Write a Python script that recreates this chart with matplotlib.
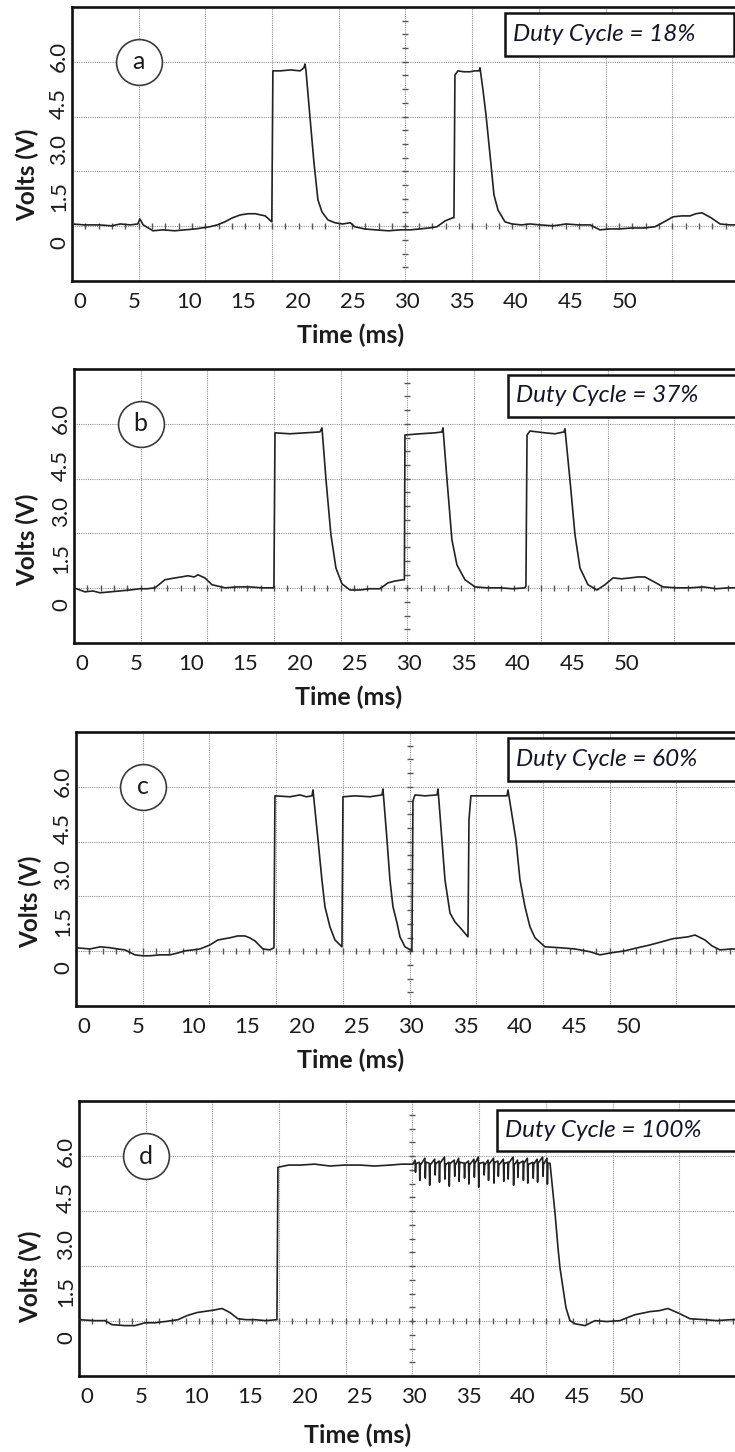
import matplotlib.pyplot as plt
from matplotlib.patches import Rectangle
import numpy as np

plt.rcParams['font.family'] = ['Lato', 'DejaVu Sans']

# scope axes: time in ms, voltage in V
x_ticks = [0, 5, 10, 15, 20, 25, 30, 35, 40, 45, 50]
y_ticks = [0, 1.5, 3.0, 4.5, 6.0]
y_tick_labels = ["0", "1.5", "3.0", "4.5", "6.0"]
x_range = (-0.73, 60.46)
y_range = (-1.23, 7.61)

panel_letters = ["a", "b", "c", "d"]
duty_labels = ["Duty Cycle = 18%", "Duty Cycle = 37%",
               "Duty Cycle = 60%", "Duty Cycle = 100%"]

# (a) 18 % duty cycle
a_t = [-0.73, 0.4, 1.8, 2.9, 3.7, 4.6, 5.3, 5.5, 5.8, 6.7, 7.6, 8.7, 9.6, 10.6,
       11.9, 12.6, 13.3, 14.0, 14.7, 15.4, 16.1, 16.6, 17.0, 17.5, 17.6, 17.7,
       18.4, 19.3, 20.2, 20.55, 20.64, 20.73, 21.10, 21.47, 21.83, 22.20, 22.75,
       23.39, 24.1, 24.8, 25.2, 26.1, 27.1, 28.3, 29.4, 30.3, 31.2, 32.0, 32.75,
       33.5, 34.2, 34.31, 34.40, 34.68, 35.2, 35.8, 36.2, 36.61, 36.70, 36.97,
       37.25, 37.71, 37.98, 38.35, 38.99, 39.63, 40.5, 41.3, 42.2, 43.4, 44.6,
       45.7, 46.8, 47.7, 48.6, 49.5, 50.6, 51.7, 52.75, 53.6, 54.4, 55.2, 55.96,
       56.5, 57.06, 57.9, 58.72, 59.6, 60.46]
a_v = [0.61, 0.58, 0.58, 0.55, 0.61, 0.58, 0.61, 0.77, 0.58, 0.39, 0.42, 0.39,
       0.42, 0.45, 0.52, 0.58, 0.68, 0.81, 0.90, 0.94, 0.94, 0.90, 0.87, 0.71,
       0.68, 5.55, 5.55, 5.58, 5.55, 5.65, 5.77, 5.58, 4.06, 2.58, 1.39, 1.00,
       0.74, 0.65, 0.61, 0.65, 0.52, 0.45, 0.42, 0.39, 0.42, 0.42, 0.45, 0.48,
       0.52, 0.71, 0.81, 0.81, 5.42, 5.55, 5.52, 5.52, 5.55, 5.55, 5.65, 4.94,
       4.13, 2.52, 1.55, 1.06, 0.68, 0.61, 0.58, 0.61, 0.58, 0.55, 0.61, 0.58,
       0.58, 0.42, 0.45, 0.45, 0.48, 0.48, 0.52, 0.68, 0.84, 0.87, 0.87, 0.94,
       0.97, 0.81, 0.61, 0.58, 0.58]

# (b) 37 % duty cycle
b_t = [-0.73, 0.28, 1.0, 1.65, 2.6, 3.49, 4.4, 5.32, 6.0, 6.70, 7.61, 8.53, 9.1,
       9.72, 10.3, 10.64, 11.28, 11.93, 13.12, 14.3, 15.41, 16.5, 17.61, 17.71,
       19.08, 20.46, 21.83, 22.02, 22.39, 22.84, 23.30, 23.85, 24.59, 25.50,
       26.4, 27.34, 28.07, 28.72, 29.45, 29.58, 29.63, 31.01, 32.39, 33.03,
       33.12, 33.49, 33.94, 34.40, 35.14, 36.06, 37.2, 38.35, 39.5, 40.64,
       40.73, 40.83, 41.10, 42.48, 43.4, 44.22, 44.31, 44.77, 45.23, 45.69,
       46.42, 47.25, 47.98, 48.72, 49.5, 50.28, 51.0, 51.65, 52.5, 53.30, 54.5,
       55.78, 57.0, 58.2, 59.3, 60.46]
b_v = [0.55, 0.42, 0.45, 0.39, 0.42, 0.45, 0.48, 0.52, 0.52, 0.55, 0.81, 0.87,
       0.90, 0.94, 0.90, 0.97, 0.87, 0.65, 0.55, 0.58, 0.58, 0.55, 0.55, 5.55,
       5.52, 5.55, 5.58, 5.71, 4.03, 2.26, 1.19, 0.68, 0.48, 0.48, 0.52, 0.52,
       0.71, 0.77, 0.81, 0.81, 5.48, 5.52, 5.55, 5.58, 5.71, 4.03, 2.10, 1.29,
       0.81, 0.58, 0.55, 0.55, 0.52, 0.55, 0.61, 5.48, 5.61, 5.55, 5.52, 5.58,
       5.68, 4.03, 2.26, 1.19, 0.65, 0.48, 0.65, 0.87, 0.84, 0.87, 0.90, 0.90,
       0.74, 0.58, 0.55, 0.55, 0.58, 0.52, 0.55, 0.55]

# (c) 60 % duty cycle
c_t = [-0.73, 0.55, 1.5, 2.39, 3.1, 3.76, 4.68, 5.4, 6.06, 7.0, 7.89, 8.6, 9.27,
       10.0, 10.64, 11.56, 12.29, 12.9, 13.39, 14.1, 14.77, 15.2, 15.69, 16.42,
       17.06, 17.43, 17.52, 18.90, 19.82, 20.4, 20.92, 21.01, 21.47, 21.83,
       22.11, 22.57, 23.03, 23.67, 23.76, 24.86, 26.24, 27.34, 27.43, 27.80,
       28.07, 28.35, 28.72, 28.99, 29.45, 30.09, 30.18, 30.37, 31.28, 32.39,
       32.48, 32.84, 33.12, 33.58, 34.04, 34.68, 35.23, 35.32, 35.50, 37.25,
       38.81, 38.90, 39.63, 40.00, 40.46, 40.92, 41.38, 42.29, 43.67, 45.05,
       46.42, 47.34, 48.26, 49.63, 50.8, 51.93, 53.30, 54.0, 54.68, 55.4, 56.06,
       56.97, 57.61, 58.35, 59.4, 60.46]
c_v = [0.65, 0.61, 0.68, 0.65, 0.61, 0.58, 0.42, 0.39, 0.39, 0.42, 0.42, 0.48,
       0.55, 0.58, 0.61, 0.74, 0.90, 0.94, 0.97, 1.03, 1.03, 0.97, 0.87, 0.61,
       0.58, 0.65, 5.55, 5.52, 5.58, 5.52, 5.55, 5.74, 4.13, 2.84, 1.97, 1.32,
       0.90, 0.68, 5.52, 5.55, 5.52, 5.58, 5.77, 4.13, 2.84, 1.97, 1.45, 1.00,
       0.68, 0.55, 5.39, 5.58, 5.55, 5.58, 5.77, 4.13, 2.84, 1.77, 1.48, 1.23,
       1.00, 4.77, 5.55, 5.55, 5.55, 5.74, 4.13, 2.84, 1.97, 1.32, 0.97, 0.68,
       0.65, 0.61, 0.52, 0.42, 0.48, 0.55, 0.65, 0.74, 0.87, 0.94, 0.97, 1.00,
       1.06, 0.90, 0.71, 0.58, 0.61, 0.61]

# (d) 100 % duty cycle: flat top, then a ripple section, then the decay
d_t_pre = [-0.73, 0.73, 1.65, 2.29, 3.49, 4.40, 5.32, 6.2, 7.16, 8.35, 9.17,
           10.09, 11.28, 11.8, 12.39, 13.12, 13.85, 14.6, 15.41, 16.4, 17.43,
           17.52, 18.5, 19.54, 20.9, 22.29, 23.6, 25.05, 26.4, 27.80, 28.9, 29.91]
d_v_pre = [0.58, 0.55, 0.55, 0.42, 0.39, 0.39, 0.48, 0.48, 0.52, 0.58, 0.71,
           0.81, 0.87, 0.90, 0.94, 0.81, 0.61, 0.58, 0.58, 0.55, 0.58, 5.48,
           5.55, 5.55, 5.58, 5.52, 5.55, 5.55, 5.52, 5.55, 5.58, 5.58]
d_ripple_t = [30.1, 30.5, 31.0, 31.4, 31.9, 32.3, 32.8, 33.2, 33.7, 34.1, 34.6,
              35.0, 35.5, 35.9, 36.4, 36.8, 37.3, 37.7, 38.2, 38.6, 39.1, 39.5,
              40.0, 40.4, 40.9, 41.3, 41.8, 42.2]
d_ripple_hi = [5.71, 5.64, 5.77, 5.61, 5.74, 5.68, 5.81, 5.64, 5.71, 5.77, 5.61,
               5.68, 5.74, 5.81, 5.64, 5.71, 5.77, 5.68, 5.74, 5.64, 5.81, 5.71,
               5.68, 5.77, 5.64, 5.74, 5.81, 5.77]
d_ripple_lo = [5.32, 5.06, 5.13, 4.90, 5.23, 5.00, 5.10, 4.87, 5.19, 5.03, 5.13,
               4.94, 5.16, 4.84, 5.23, 5.06, 4.97, 5.19, 5.03, 5.10, 4.90, 5.16,
               5.06, 4.97, 5.13, 5.00, 5.19, 4.94]
d_ripple_top = [5.61, 5.58, 5.64, 5.58, 5.61, 5.64, 5.58, 5.61, 5.58, 5.64, 5.61,
                5.58, 5.64, 5.61, 5.58, 5.61, 5.64, 5.58, 5.61, 5.64, 5.58, 5.61,
                5.64, 5.58, 5.61, 5.64, 5.61, 5.61]
d_t_post = [42.48, 42.66, 42.94, 43.21, 43.39, 43.67, 43.94, 44.31, 44.77, 45.69,
            46.61, 47.7, 48.90, 49.6, 50.28, 51.65, 52.5, 53.30, 54.40, 55.32,
            56.70, 57.8, 59.0, 60.46]
d_v_post = [5.61, 4.97, 4.00, 2.90, 2.26, 1.61, 0.97, 0.55, 0.45, 0.39, 0.55,
            0.52, 0.55, 0.65, 0.74, 0.84, 0.87, 0.94, 0.77, 0.61, 0.58, 0.55,
            0.58, 0.58]

# each ripple: short spike up, sharp dip, back to the top line
d_t = list(d_t_pre)
d_v = list(d_v_pre)
for t, hi, lo, top in zip(d_ripple_t, d_ripple_hi, d_ripple_lo, d_ripple_top):
    d_t += [t, t + 0.04, t + 0.09, t + 0.15]
    d_v += [hi, lo, top, top]
d_t += d_t_post
d_v += d_v_post

traces = [(a_t, a_v), (b_t, b_v), (c_t, c_v), (d_t, d_v)]

W, H = 735, 1452
fig = plt.figure(figsize=(W / 100, H / 100), dpi=100)

# frame left / top / bottom in pixels, the right edge runs off the page
frames = [(72, 7, 281), (74, 369, 643), (76, 732, 1006), (79, 1101, 1376)]
frame_w = 667
# duty-cycle box in axes fractions: x0, y0, x1, y1
boxes = [(0.649, 0.821, 0.9925, 0.978), (0.651, 0.825, 1.03, 0.978),
         (0.648, 0.821, 1.03, 0.978), (0.627, 0.818, 1.03, 0.967)]
xlabel_pos = [(0.418, -0.200), (0.412, -0.197), (0.412, -0.197), (0.418, -0.215)]
ylabel_pos = [(-0.0675, 0.387), (-0.070, 0.376), (-0.069, 0.380), (-0.073, 0.360)]

gx = np.linspace(*x_range, 11)
gy = np.linspace(*y_range, 6)
sub_x = np.linspace(*x_range, 51)
sub_y = np.linspace(*y_range, 21)
grid_kw = dict(color='#939393', lw=0.8, ls=(0, (1, 1)), zorder=1)
ink = '#1c1c1c'

for i, (left, top, bottom) in enumerate(frames):
    ax = fig.add_axes([left / W, 1 - bottom / H, frame_w / W, (bottom - top) / H])
    ax.set_xlim(*x_range)
    ax.set_ylim(*y_range)

    # graticule
    for x in gx[1:-1]:
        ax.axvline(x, **grid_kw)
    for y in gy[1:-1]:
        ax.axhline(y, **grid_kw)
    ax.plot(sub_x, np.full_like(sub_x, gy[1]), ls='none', marker='|',
            ms=5, mew=1.0, color='#555555', zorder=2)
    ax.plot(np.full_like(sub_y, gx[5]), sub_y, ls='none', marker='_',
            ms=5, mew=1.0, color='#555555', zorder=2)

    t, v = traces[i]
    ax.plot(t, v, color='#222222', lw=1.2, zorder=3)

    # panel letter in a circle
    ax.plot(gx[1], gy[4], marker='o', ms=33, mfc='white', mec='#3a3a3a',
            mew=1.2, zorder=4)
    ax.text(gx[1], gy[4], panel_letters[i], ha='center', va='center',
            fontsize=18, color=ink, zorder=5)

    # duty cycle box
    x0, y0, x1, y1 = boxes[i]
    ax.add_patch(Rectangle((x0, y0), x1 - x0, y1 - y0, transform=ax.transAxes,
                           facecolor='white', edgecolor='#111111', lw=1.8,
                           clip_on=False, zorder=6))
    ax.text(x0 + 8 / frame_w, (y0 + y1) / 2, duty_labels[i],
            transform=ax.transAxes, ha='left', va='center', fontsize=17.5,
            fontstyle='italic', color='#15152a', zorder=7)

    ax.set_xticks(x_ticks)
    ax.set_xticklabels([str(x) for x in x_ticks])
    ax.set_yticks(y_ticks)
    ax.set_yticklabels(y_tick_labels, rotation=90, va='center')
    ax.tick_params(length=0, labelsize=16, labelcolor=ink)
    ax.tick_params(axis='x', pad=8)
    ax.tick_params(axis='y', pad=2)

    ax.set_xlabel("Time (ms)", fontsize=18, fontweight='bold', color=ink,
                  va='center')
    ax.xaxis.set_label_coords(*xlabel_pos[i])
    ax.set_ylabel("Volts (V)", fontsize=17.5, fontweight='bold', color=ink,
                  va='center')
    ax.yaxis.set_label_coords(*ylabel_pos[i])

    for side in ['left', 'top', 'bottom', 'right']:
        ax.spines[side].set_linewidth(1.9)
        ax.spines[side].set_color('#111111')

fig.savefig("out.png", dpi=100)
